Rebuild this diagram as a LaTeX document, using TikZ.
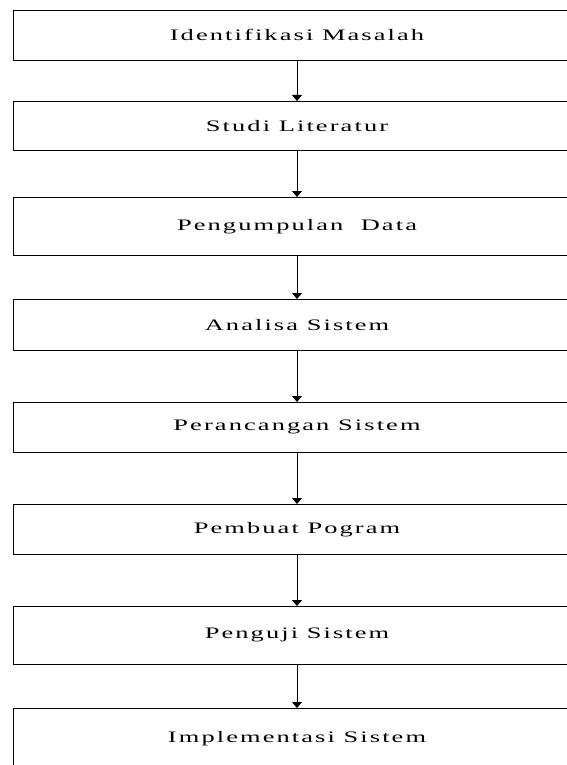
\documentclass[tikz,border=0pt]{standalone}
\usepackage{fontspec}
\usepackage{graphicx}
\setmainfont{Liberation Serif}[LetterSpace=8]
\usetikzlibrary{arrows.meta}
\newcommand{\widetext}[1]{\scalebox{1.65}[1]{\fontsize{16pt}{19pt}\selectfont #1}}
\tikzset{
  stagebox/.style={draw=black, line width=0.8pt, minimum width=568pt, inner sep=0pt, anchor=north},
  flowarrow/.style={draw=black, line width=0.8pt, -{Triangle[width=10pt,length=6pt]}}
}
\begin{document}
\begin{tikzpicture}[x=1pt, y=-1pt]
  \clip (0,0) rectangle (567,765);
  \useasboundingbox (0,0) rectangle (567,765);
  \node[stagebox, minimum height=50pt] (s1) at (297,10)  {\widetext{Identifikasi Masalah}};
  \node[stagebox, minimum height=49pt] (s2) at (297,101) {\widetext{Studi Literatur}};
  \node[stagebox, minimum height=58pt] (s3) at (297,197) {\widetext{Pengumpulan\ \ Data}};
  \node[stagebox, minimum height=51pt] (s4) at (297,299) {\widetext{Analisa Sistem}};
  \node[stagebox, minimum height=50pt] (s5) at (297,402) {\widetext{Perancangan Sistem}};
  \node[stagebox, minimum height=50pt] (s6) at (297,504) {\widetext{Pembuat Pogram}};
  \node[stagebox, minimum height=58pt] (s7) at (297,606) {\widetext{Penguji Sistem}};
  \node[stagebox, minimum height=60pt] (s8) at (297,708) {\widetext{Implementasi Sistem}};
  \foreach \a/\b in {s1/s2, s2/s3, s3/s4, s4/s5, s5/s6, s6/s7, s7/s8}
    \draw[flowarrow] (\a.south) -- (\b.north);
\end{tikzpicture}
\end{document}
